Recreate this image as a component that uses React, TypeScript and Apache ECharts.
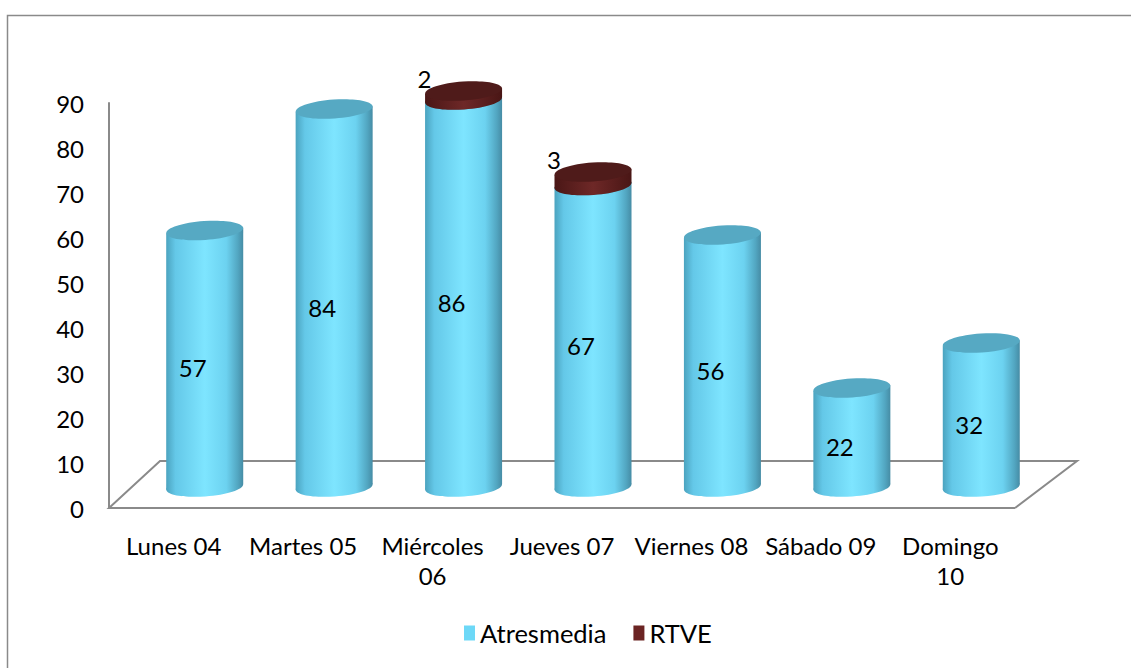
import React, { useEffect, useRef } from "react";
import * as echarts from "echarts";

const categories = ["Lunes 04", "Martes 05", "Miércoles 06", "Jueves 07", "Viernes 08", "Sábado 09", "Domingo 10"];
const categoryTickLabels = ["Lunes 04", "Martes 05", "Miércoles\n06", "Jueves 07", "Viernes 08", "Sábado 09", "Domingo\n10"];
const atresmedia = [57, 84, 86, 67, 56, 22, 32];
const rtve = [0, 0, 2, 3, 0, 0, 0];
const seriesNames = ["Atresmedia", "RTVE"];
const valueMin = 0;
const valueMax = 90;
const valueInterval = 10;

const FONT = "Lato, 'Open Sans', sans-serif";
const TILT = 0.07;
const RY = 9.5;

const cyanBody = () =>
  new echarts.graphic.LinearGradient(0, 0, 1, 0, [
    { offset: 0, color: "#4BA3BF" },
    { offset: 0.12, color: "#64C8E8" },
    { offset: 0.5, color: "#7EE5FF" },
    { offset: 0.78, color: "#6CD2F0" },
    { offset: 0.93, color: "#52A6C1" },
    { offset: 1, color: "#468CA5" },
  ]);
const redBody = () =>
  new echarts.graphic.LinearGradient(0, 0, 1, 0, [
    { offset: 0, color: "#4A1716" },
    { offset: 0.5, color: "#6E2827" },
    { offset: 1, color: "#491615" },
  ]);

function cylinder(api: any, idx: number, base: number, top: number, body: any, topColor: string) {
  const p0 = api.coord([idx, base]);
  const p1 = api.coord([idx, top]);
  const cx = p0[0];
  const yb = p0[1];
  const yt = p1[1];
  const w = api.size([1, 0])[0] * 0.595;
  const rx = w / 2;
  const dy = rx * Math.sin(TILT);
  return [
    { type: "ellipse", x: cx, y: yb, rotation: TILT, shape: { cx: 0, cy: 0, rx, ry: RY }, style: { fill: body } },
    {
      type: "polygon",
      shape: { points: [[cx - rx, yt + dy], [cx + rx, yt - dy], [cx + rx, yb - dy], [cx - rx, yb + dy]] },
      style: { fill: body },
    },
    { type: "ellipse", x: cx, y: yt, rotation: TILT, shape: { cx: 0, cy: 0, rx, ry: RY }, style: { fill: topColor } },
  ];
}

export default function App() {
  const ref = useRef<HTMLDivElement>(null);
  useEffect(() => {
    document.body.style.margin = "0";
    const chart = echarts.init(ref.current!, null, { renderer: "svg" });
    const option: any = {
      animation: false,
      backgroundColor: "#ffffff",
      textStyle: { fontFamily: FONT },
      graphic: [
        {
          type: "rect",
          shape: { x: 7.5, y: 15.5, width: 1200, height: 700 },
          style: { fill: "none", stroke: "#8a8a8a", lineWidth: 1.5 },
          silent: true,
        },
      ],
      legend: {
        bottom: 17,
        left: 459,
        icon: "rect",
        itemWidth: 11,
        itemHeight: 15,
        itemGap: 27,
        textStyle: { fontFamily: FONT, fontSize: 25.5, color: "#000" },
        data: [
          { name: seriesNames[0], itemStyle: { color: "#6DD8F7" } },
          { name: seriesNames[1], itemStyle: { color: "#6B2423" } },
        ],
      },
      grid: [
        { left: 109, right: 116, top: 103, bottom: 160 },
        { left: 140, right: 85, top: 82, bottom: 181 },
      ],
      xAxis: [
        {
          type: "category",
          gridIndex: 0,
          data: categoryTickLabels,
          axisLine: { show: false },
          axisTick: { show: false },
          axisLabel: {
            fontFamily: FONT,
            fontSize: 24,
            color: "#000",
            margin: 22,
            lineHeight: 30,
            interval: 0,
          },
        },
        { type: "category", gridIndex: 1, data: categories, show: false },
      ],
      yAxis: [
        {
          type: "value",
          gridIndex: 0,
          min: valueMin,
          max: valueMax,
          interval: valueInterval,
          axisLine: { show: true, lineStyle: { color: "#8a8a8a", width: 2 } },
          axisTick: { show: false },
          splitLine: { show: false },
          axisLabel: { fontFamily: FONT, fontSize: 24, color: "#000", margin: 25 },
        },
        { type: "value", gridIndex: 1, min: valueMin, max: valueMax, show: false },
      ],
      series: [
        {
          type: "custom",
          name: "floor",
          xAxisIndex: 0,
          yAxisIndex: 0,
          silent: true,
          z: 1,
          data: [0],
          renderItem: (params: any) => {
            const cs = params.coordSys;
            const fy = cs.y + cs.height;
            return {
              type: "polyline",
              shape: {
                points: [
                  [cs.x + cs.width, fy],
                  [cs.x, fy],
                  [cs.x + 51, fy - 47],
                  [cs.x + cs.width + 62, fy - 47],
                  [cs.x + cs.width, fy],
                ],
              },
              style: { fill: "none", stroke: "#8a8a8a", lineWidth: 2 },
            };
          },
        },
        {
          type: "custom",
          name: seriesNames[0],
          xAxisIndex: 1,
          yAxisIndex: 1,
          z: 2,
          itemStyle: { color: "#6DD8F7" },
          data: atresmedia.map((v, i) => [i, v]),
          renderItem: (params: any, api: any) => {
            const i = api.value(0);
            const v = api.value(1);
            const kids: any[] = cylinder(api, i, 0, v, cyanBody(), "#56A9C3");
            const p0 = api.coord([i, 0]);
            const p1 = api.coord([i, v]);
            kids.push({
              type: "text",
              x: p0[0] - 12,
              y: (p0[1] + p1[1]) / 2 + 9,
              style: {
                text: String(v),
                fontFamily: FONT,
                fontSize: 24,
                fill: "#000",
                align: "center",
                verticalAlign: "middle",
              },
            });
            return { type: "group", children: kids };
          },
        },
        {
          type: "custom",
          name: seriesNames[1],
          xAxisIndex: 1,
          yAxisIndex: 1,
          z: 3,
          itemStyle: { color: "#6B2423" },
          data: rtve.map((v, i) => [i, v, atresmedia[i]]),
          renderItem: (params: any, api: any) => {
            const i = api.value(0);
            const v = api.value(1);
            const base = api.value(2);
            if (!v) return null;
            const kids: any[] = cylinder(api, i, base, base + v, redBody(), "#4F1B1A");
            const p1 = api.coord([i, base + v]);
            kids.push({
              type: "text",
              x: p1[0] - 39,
              y: p1[1] - 13,
              style: {
                text: String(v),
                fontFamily: FONT,
                fontSize: 24,
                fill: "#000",
                align: "center",
                verticalAlign: "middle",
              },
            });
            return { type: "group", children: kids };
          },
        },
      ],
    };
    chart.setOption(option);
    return () => chart.dispose();
  }, []);
  return <div ref={ref} style={{ width: 1131, height: 668 }} />;
}
